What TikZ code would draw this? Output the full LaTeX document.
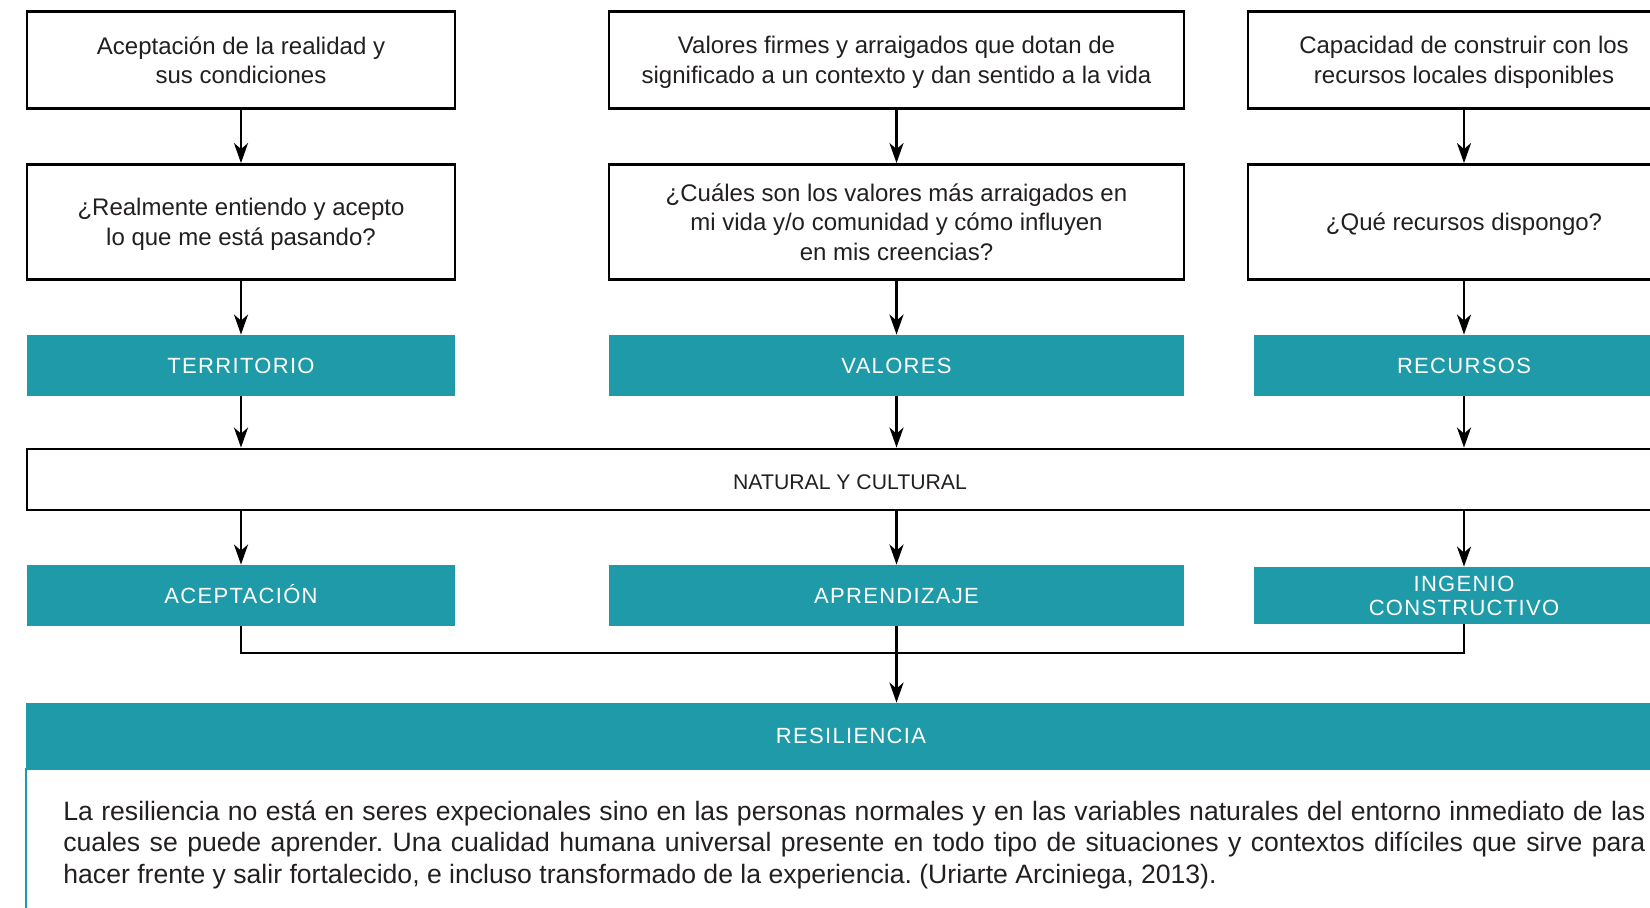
\documentclass[tikz,border=0pt]{standalone}
\usepackage{fontspec}
\setmainfont{Liberation Sans}
\newfontfamily\labelfont[LetterSpace=6]{Liberation Sans}
\usetikzlibrary{arrows.meta}
\definecolor{teal1}{RGB}{30,154,168}
\definecolor{ink}{RGB}{35,31,32}
\frenchspacing
\begin{document}
\begin{tikzpicture}[x=0.5pt,y=-0.5pt,
  wbox/.style={draw=black, line width=1.4pt, fill=white, inner sep=0pt, align=center,
    font=\fontsize{12}{14.7}\selectfont, text=ink, text depth=0pt},
  tbox/.style={fill=teal1, inner sep=0pt, align=center,
    font=\labelfont\fontsize{11}{12}\selectfont, text=white},
  oneline/.style={text height=#1, text depth=0pt},
  oneline/.default=7.6pt,
  arr/.style={line width=1.3pt, -{Stealth[length=10pt,width=7pt,inset=3pt]}},
  ln/.style={line width=1.3pt}]
\useasboundingbox (0,0) rectangle (1650,908);
\clip (0,0) rectangle (1650,908);
% row 1
\node[wbox, minimum width=214pt, minimum height=48.5pt] (a1) at (241,60) {Aceptación de la realidad y\\sus condiciones};
\node[wbox, minimum width=287.5pt, minimum height=48.5pt] (b1) at (896.5,60) {Valores firmes y arraigados que dotan de\\significado a un contexto y dan sentido a la vida};
\node[wbox, minimum width=216pt, minimum height=48.5pt] (c1) at (1464,60) {Capacidad de construir con los\\recursos locales disponibles};
% row 2
\node[wbox, minimum width=214pt, minimum height=57.5pt] (a2) at (241,222) {¿Realmente entiendo y acepto\\lo que me está pasando?};
\node[wbox, minimum width=287.5pt, minimum height=57.5pt] (b2) at (896.5,222) {¿Cuáles son los valores más arraigados en\\mi vida y/o comunidad y cómo influyen\\en mis creencias?};
\node[wbox, minimum width=216pt, minimum height=57.5pt] (c2) at (1464,222) {¿Qué recursos dispongo?};
% teal row 1
\node[tbox, oneline, minimum width=214pt, minimum height=30.5pt] (a3) at (241,365.5) {TERRITORIO};
\node[tbox, oneline, minimum width=287.5pt, minimum height=30.5pt] (b3) at (896.5,365.5) {VALORES};
\node[tbox, oneline, minimum width=210pt, minimum height=30.5pt] (c3) at (1464,365.5) {RECURSOS};
% natural
\node[wbox, minimum width=823pt, minimum height=30.5pt, text height=10.5pt,
  font=\fontsize{10.6}{12}\selectfont] (nat) at (850,479.5) {NATURAL Y CULTURAL};
% teal row 2
\node[tbox, oneline=8.5pt, minimum width=214pt, minimum height=30.5pt] (a4) at (241,595.5) {ACEPTACIÓN};
\node[tbox, oneline=8.5pt, minimum width=287.5pt, minimum height=30.5pt] (b4) at (896.5,595.5) {APRENDIZAJE};
\node[tbox, minimum width=210pt, minimum height=28.5pt] (c4) at (1464,595.5) {INGENIO\\CONSTRUCTIVO};
% resiliencia
\node[tbox, oneline, minimum width=825pt, minimum height=33pt] (res) at (851,736) {RESILIENCIA};
\draw[teal1, line width=1pt] (26,769) rectangle (1676,940);
\node[anchor=base west, inner sep=0pt, text width=791pt, align=justify, text=ink,
  font=\fontsize{13.3}{15.8}\selectfont] (txt) at (63,820)
  {La resiliencia no está en seres expecionales sino en las personas normales y en las variables naturales del entorno inmediato de las\linebreak cuales se puede aprender. Una cualidad humana universal presente en todo tipo de situaciones y contextos difíciles que sirve para\linebreak hacer frente y salir fortalecido, e incluso transformado de la experiencia. (Uriarte Arciniega, 2013).};
% connectors
\foreach \c in {a,b,c}{
  \draw[arr] (\c1) -- (\c2);
  \draw[arr] (\c2) -- (\c3);
  \draw[arr] (\c3.south) -- (\c3.south |- nat.north);
  \draw[arr] (\c3.south |- nat.south) -- (\c4.north);
}
\coordinate (j) at (896.5,653);
\draw[ln] (a4.south) |- (j) -| (c4.south);
\draw[arr] (b4.south) -- (b4.south |- res.north);
\end{tikzpicture}
\end{document}
